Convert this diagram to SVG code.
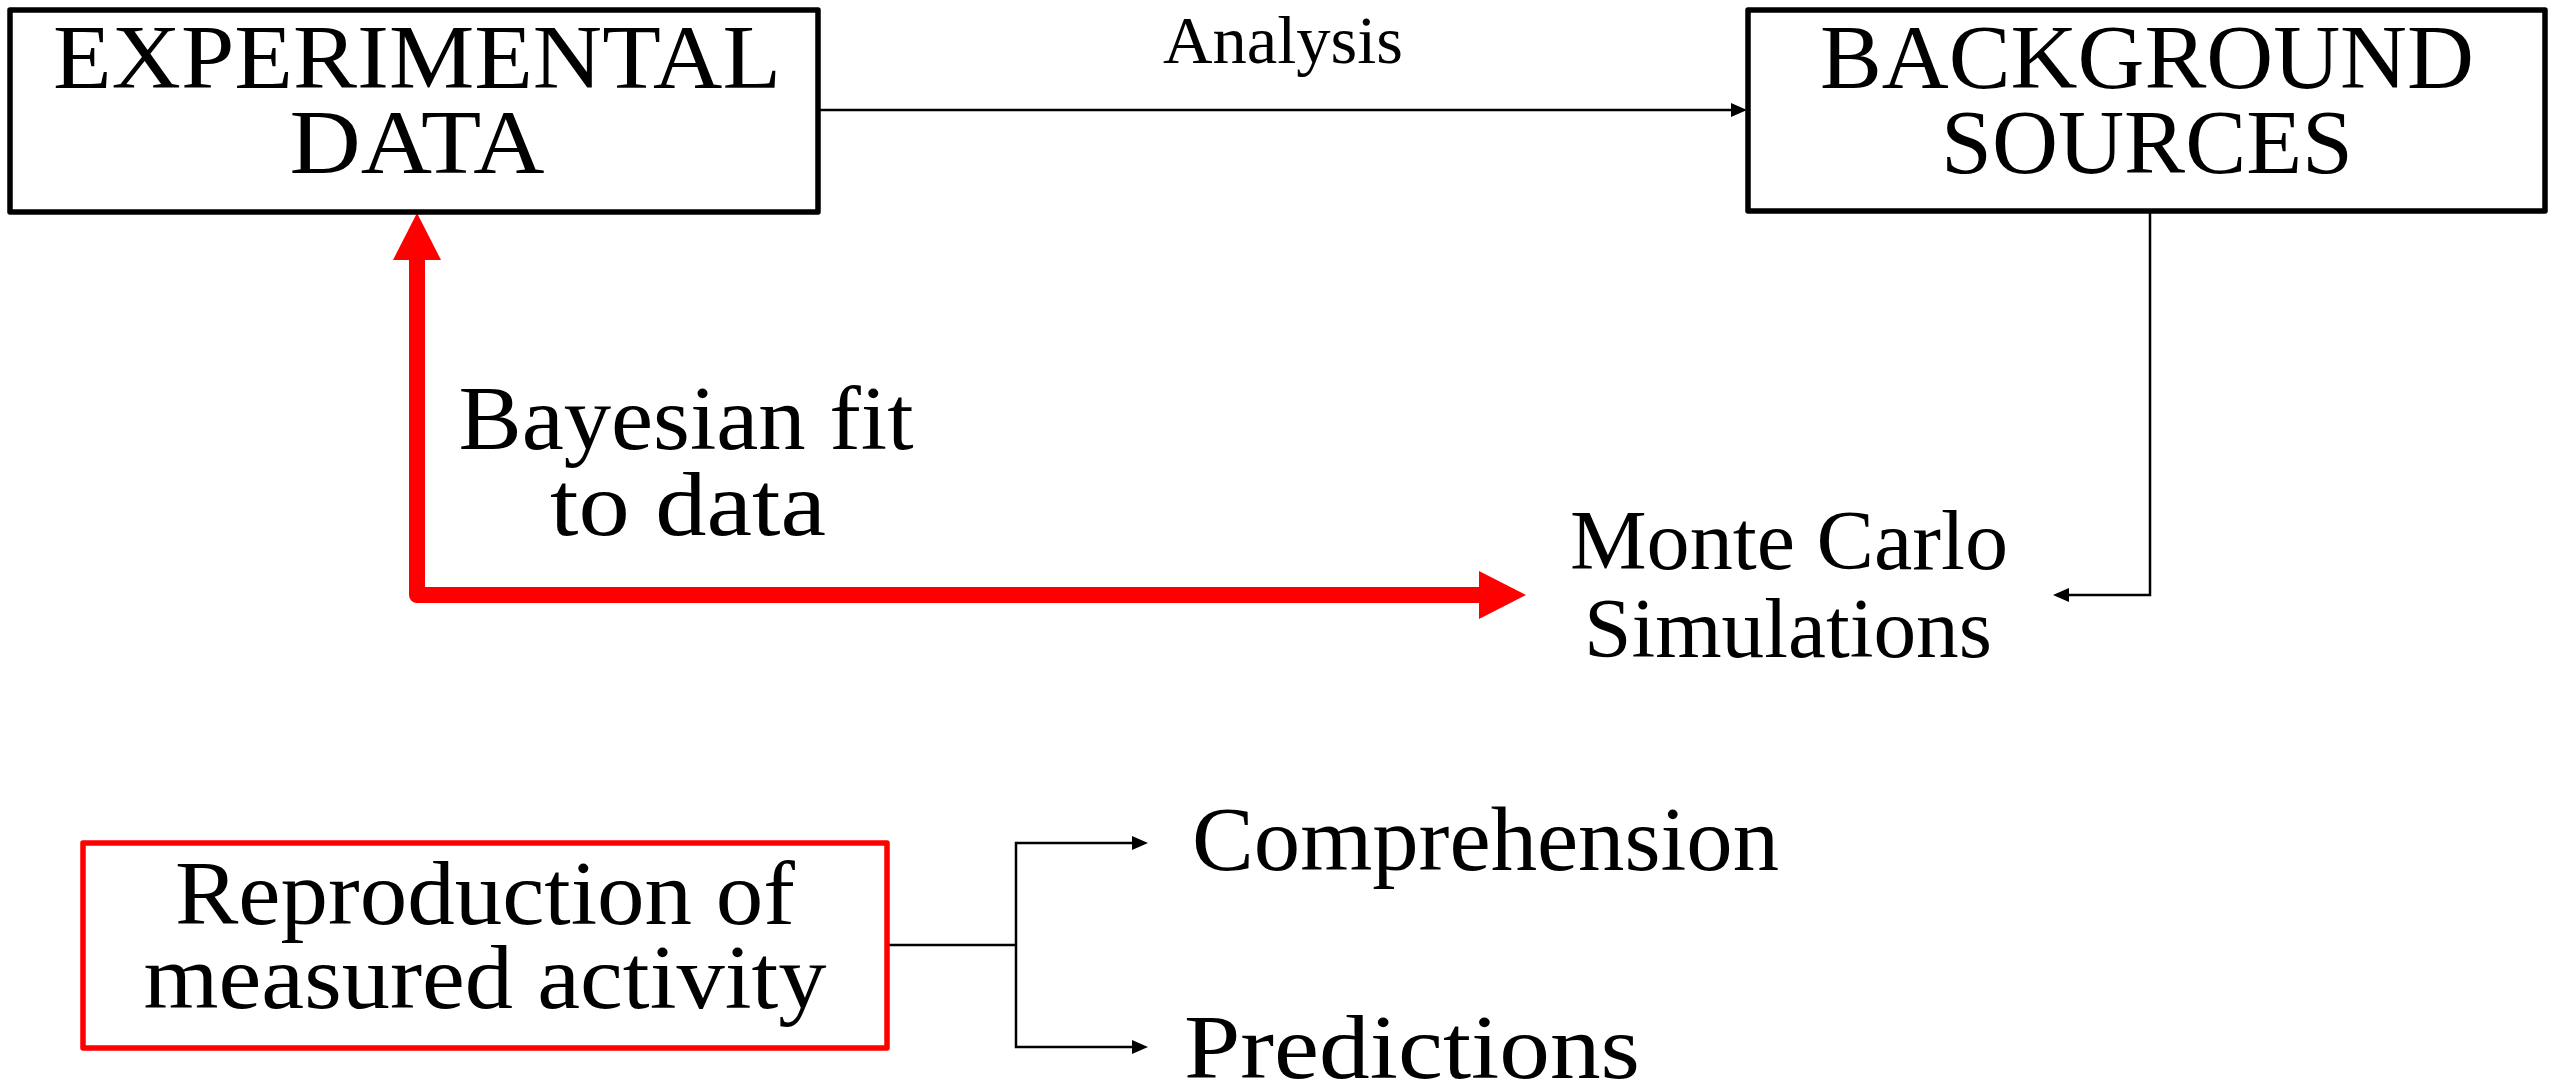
<svg xmlns="http://www.w3.org/2000/svg" width="2560" height="1083" viewBox="0 0 2560 1083">
<style>
  text { font-family: "Liberation Serif", "Times New Roman", serif; fill: #000; }
  .big { font-size: 90px; }
  .mid { font-size: 84px; }
  .small { font-size: 68px; }
  .box { fill: #fff; stroke: #000; stroke-width: 5.5; stroke-linejoin: round; }
  .rbox { fill: #fff; stroke: #ff0000; stroke-width: 5.5; stroke-linejoin: round; }
  .conn { fill: none; stroke: #000; stroke-width: 2.5; }
  .red { fill: none; stroke: #ff0000; stroke-width: 16; stroke-linejoin: round; }
</style>
<defs>
  <marker id="ah" markerUnits="userSpaceOnUse" markerWidth="16" markerHeight="14" viewBox="0 0 16 14" refX="0" refY="7" orient="auto-start-reverse">
    <path d="M0,0 L16,7 L0,14 z" fill="#000"/>
  </marker>
  <marker id="rah" markerUnits="userSpaceOnUse" markerWidth="47" markerHeight="48" viewBox="0 0 47 48" refX="0" refY="24" orient="auto-start-reverse">
    <path d="M0,0 L47,24 L0,48 z" fill="#ff0000"/>
  </marker>
</defs>
<g id="connectors">
  <path class="conn" d="M819,110 H1731" marker-end="url(#ah)"/>
  <path class="conn" d="M2150,212 V595 H2069" marker-end="url(#ah)"/>
  <path class="red" d="M417,260 V595 H1479" marker-start="url(#rah)" marker-end="url(#rah)"/>
  <path class="conn" d="M887,945 H1016"/>
  <path class="conn" d="M1016,945 V843 H1132" marker-end="url(#ah)"/>
  <path class="conn" d="M1016,945 V1047 H1132" marker-end="url(#ah)"/>
  <text class="small" x="1283" y="63" text-anchor="middle" textLength="240" lengthAdjust="spacingAndGlyphs">Analysis</text>
  <text class="big" text-anchor="middle"><tspan x="686" y="449" textLength="455" lengthAdjust="spacingAndGlyphs">Bayesian fit</tspan><tspan x="688" y="535" textLength="276" lengthAdjust="spacingAndGlyphs">to data</tspan></text>
</g>
<g id="experimental-data">
  <rect class="box" x="10" y="10" width="808" height="202"/>
  <text class="big" text-anchor="middle"><tspan x="417" y="88" textLength="728" lengthAdjust="spacingAndGlyphs">EXPERIMENTAL</tspan><tspan x="417" y="173" textLength="255" lengthAdjust="spacingAndGlyphs">DATA</tspan></text>
</g>
<g id="background-sources">
  <rect class="box" x="1748" y="10" width="797" height="201"/>
  <text class="big" text-anchor="middle"><tspan x="2147" y="88" textLength="654" lengthAdjust="spacingAndGlyphs">BACKGROUND</tspan><tspan x="2147" y="173" textLength="412" lengthAdjust="spacingAndGlyphs">SOURCES</tspan></text>
</g>
<g id="monte-carlo">
  <text class="mid" text-anchor="middle"><tspan x="1789" y="569" textLength="438" lengthAdjust="spacingAndGlyphs">Monte Carlo</tspan><tspan x="1788" y="657" textLength="408" lengthAdjust="spacingAndGlyphs">Simulations</tspan></text>
</g>
<g id="reproduction">
  <rect class="rbox" x="83" y="843" width="804" height="205"/>
  <text class="big" text-anchor="middle"><tspan x="485" y="924" textLength="620" lengthAdjust="spacingAndGlyphs">Reproduction of</tspan><tspan x="485" y="1008" textLength="683" lengthAdjust="spacingAndGlyphs">measured activity</tspan></text>
</g>
<g id="comprehension">
  <text class="big" x="1192" y="870" textLength="587" lengthAdjust="spacingAndGlyphs">Comprehension</text>
</g>
<g id="predictions">
  <text class="big" x="1184" y="1078" textLength="456" lengthAdjust="spacingAndGlyphs">Predictions</text>
</g>
</svg>
